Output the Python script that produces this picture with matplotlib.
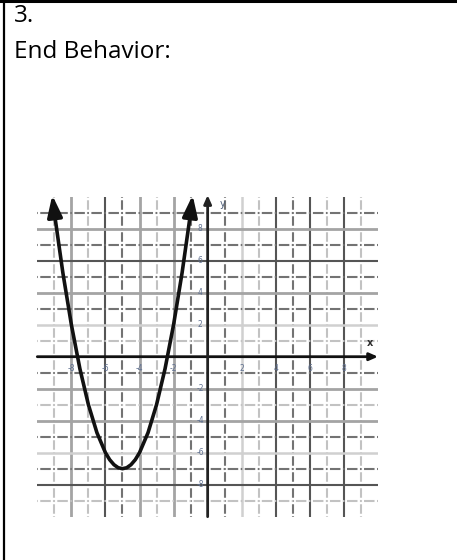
import matplotlib
matplotlib.use("Agg")
import matplotlib.pyplot as plt

plt.rcParams['lines.scale_dashes'] = False

# heading text of the worksheet cell
item_label = "3."
prompt_label = "End Behavior:"

# grid lines (every unit, axes drawn separately)
vgrid_x = [-9, -8, -7, -6, -5, -4, -3, -2, -1, 1, 2, 3, 4, 5, 6, 7, 8, 9]
vgrid_kind = ['ld', 'gs', 'ld', 'ds', 'dd', 'gs', 'ld', 'gs', 'dd',
              'dd', 'ls', 'ld', 'ds', 'dd', 'ds', 'ld', 'ds', 'ld']
hgrid_y = [9, 8, 7, 6, 5, 4, 3, 2, 1, -1, -2, -3, -4, -5, -6, -7, -8, -9]
hgrid_kind = ['dd', 'gs', 'dd', 'ds', 'dd', 'gs', 'dd', 'ls', 'ld',
              'dd', 'gs', 'ld', 'gs', 'dd', 'ls', 'dd', 'ds', 'ld']

# tick labels printed along the axes
xtick_vals = [-8, -6, -4, -2, 2, 4, 6, 8]
ytick_vals = [8, 6, 4, 2, -2, -4, -6, -8]

# parabola (vertex near (-5, -7))
curve_x = [-9.12, -9.0, -8.5, -8.0, -7.5, -7.0, -6.5, -6.0, -5.75, -5.5, -5.25, -5.0,
           -4.75, -4.5, -4.25, -4.0, -3.5, -3.0, -2.5, -2.0, -1.5, -1.0, -0.88]
curve_y = [10.1, 9.0, 5.25, 2.0, -0.75, -3.0, -4.75, -6.0, -6.44, -6.75, -6.94, -7.0,
           -6.94, -6.75, -6.44, -6.0, -4.75, -3.0, -0.75, 2.0, 5.25, 9.0, 10.1]

W, H = 457, 560
fig = plt.figure(figsize=(W / 100, H / 100), dpi=100)


def px(x, y):
    """ pixel position (from top-left) -> figure fraction """
    return x / W, 1 - y / H


# cell border: top and left only
fig.add_artist(plt.Line2D([0, 1], [1 - 1.2 / H] * 2, color='black', lw=2.2))
fig.add_artist(plt.Line2D([4 / W] * 2, [0, 1], color='black', lw=1.6))

fig.text(*px(14, 21.5), item_label, fontsize=17.5, family='Open Sans', va='baseline')
fig.text(*px(14, 57.5), prompt_label, fontsize=17.5, family='Open Sans', va='baseline')

# axes placed so that -10..10 maps to the drawn grid
left, right, top, bottom = 37.3, 378.0, 196.7, 516.7
ax = fig.add_axes([left / W, 1 - bottom / H, (right - left) / W, (bottom - top) / H])
ax.set_xlim(-10, 10)
ax.set_ylim(-10, 10)
ax.axis('off')

styles = {
    'ds': dict(color='#555555', lw=1.5),
    'gs': dict(color='#a4a4a4', lw=2.0),
    'ls': dict(color='#d0d0d0', lw=1.8),
    'dd': dict(color='#737373', lw=1.5),
    'ld': dict(color='#c2c2c2', lw=1.5),
}
# long dash in each cell, a short mark on every crossing (lengths in points)
k = 0.72
h_dash = (k * 13.77, (k * 10.5, k * 2.5, k * 1.54, k * 2.5))
v_dash = (k * 12.75, (k * 9.5, k * 2.5, k * 1.5, k * 2.5))

for x, kind in zip(vgrid_x, vgrid_kind):
    st = dict(styles[kind])
    st['ls'] = v_dash if kind in ('dd', 'ld') else '-'
    ax.plot([x, x], [-10, 10], zorder=1, **st)

for y, kind in zip(hgrid_y, hgrid_kind):
    st = dict(styles[kind])
    st['ls'] = h_dash if kind in ('dd', 'ld') else '-'
    ax.plot([-10, 10], [y, y], zorder=1, **st)

# coordinate axes with small arrow heads
ax.annotate('', xy=(10, 0), xytext=(-10, 0),
            arrowprops=dict(arrowstyle='-|>,head_length=0.5,head_width=0.22',
                            color='#111111', lw=2.0, shrinkA=0, shrinkB=0),
            annotation_clip=False, zorder=3)
ax.annotate('', xy=(0, 10.1), xytext=(0, -10),
            arrowprops=dict(arrowstyle='-|>,head_length=0.5,head_width=0.22',
                            color='#222222', lw=2.0, shrinkA=0, shrinkB=0),
            annotation_clip=False, zorder=3)

lab_col = '#5f7090'
for v in xtick_vals:
    ax.text(v, -0.75, str(v), fontsize=5.5, color=lab_col, ha='center', va='center', zorder=4)
for v in ytick_vals:
    ax.text(-0.45, v, str(v), fontsize=5.5, color=lab_col, ha='center', va='center', zorder=4)
ax.text(0.9, 9.55, 'y', fontsize=7, color='#4f5f78', ha='center', va='center', zorder=4)
ax.text(9.55, 0.85, 'x', fontsize=7, color='#2f2f2f', ha='center', va='center',
        fontweight='bold', zorder=4)

# the parabola and its end arrows
ax.plot(curve_x[1:-1], curve_y[1:-1], color='#111111', lw=2.6,
        solid_joinstyle='round', solid_capstyle='round', zorder=5, clip_on=False)
for i, j in ((0, 1), (-1, -2)):
    ax.annotate('', xy=(curve_x[i], curve_y[i]), xytext=(curve_x[j], curve_y[j]),
                arrowprops=dict(arrowstyle='-|>,head_length=1.3,head_width=0.45',
                                color='#111111', lw=2.6, shrinkA=0, shrinkB=0),
                annotation_clip=False, zorder=6)

fig.savefig('out.png', dpi=100)
